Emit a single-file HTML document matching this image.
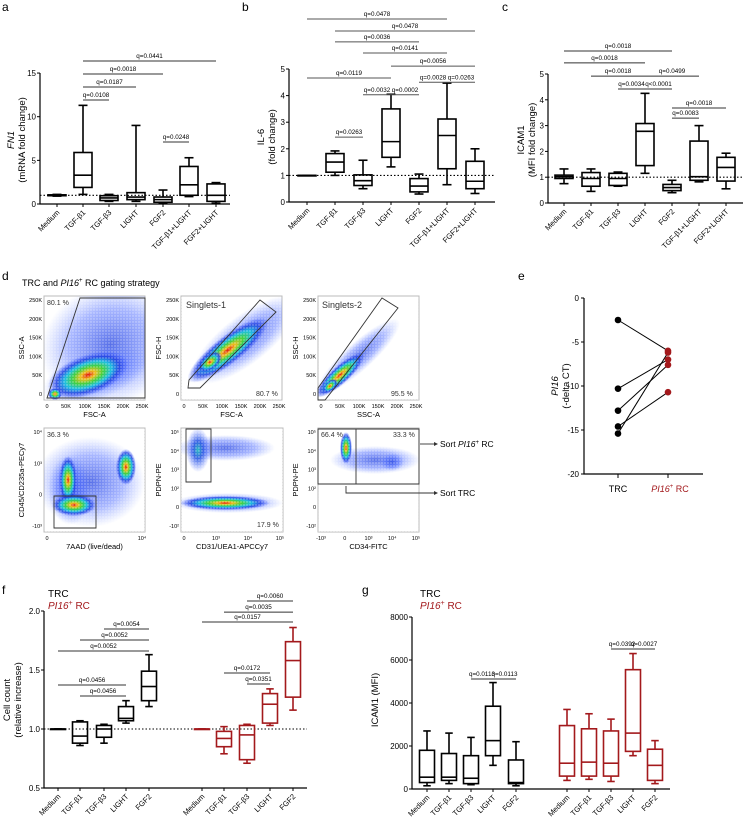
<!DOCTYPE html>
<html><head><meta charset="utf-8"><style>
html,body{margin:0;padding:0;background:#fff}
svg{display:block;font-family:"Liberation Sans",sans-serif}
</style></head><body>
<svg id="fig" width="743" height="819" viewBox="0 0 743 819" xmlns="http://www.w3.org/2000/svg">
<defs>
<radialGradient id="heat"><stop offset="0" stop-color="#e01010"/><stop offset="0.18" stop-color="#f0c020"/><stop offset="0.38" stop-color="#40d040"/><stop offset="0.58" stop-color="#20c0e0"/><stop offset="0.78" stop-color="#2040e0" stop-opacity="0.85"/><stop offset="1" stop-color="#3050ff" stop-opacity="0"/></radialGradient>
<radialGradient id="cool"><stop offset="0" stop-color="#30c0c0"/><stop offset="0.4" stop-color="#2050e0" stop-opacity="0.85"/><stop offset="1" stop-color="#4060ff" stop-opacity="0"/></radialGradient>
<radialGradient id="faint"><stop offset="0" stop-color="#2040e0" stop-opacity="0.75"/><stop offset="0.6" stop-color="#4060ff" stop-opacity="0.45"/><stop offset="1" stop-color="#6080ff" stop-opacity="0"/></radialGradient>
<pattern id="dots" width="3" height="3" patternUnits="userSpaceOnUse"><rect width="3" height="3" fill="#fff" fill-opacity="0"/><circle cx="1" cy="1" r="0.7" fill="#fff"/></pattern>
</defs>
<g id="panels"></g>
<g id="flow"></g>
</svg>
<script>
// ---------- DATA ----------
const catsA = ["Medium","TGF-β1","TGF-β3","LIGHT","FGF2","TGF-β1+LIGHT","FGF2+LIGHT"];
const boxesA = [[0.9,0.95,1,1.05,1.1],[1.1,1.9,3.3,5.9,11.3],[0.3,0.4,0.7,0.95,1.1],[0.3,0.5,0.8,1.3,9.0],[0.1,0.2,0.5,0.8,1.6],[0.85,1.0,2.2,4.3,5.3],[0.1,0.3,1.0,2.3,2.45]];
const ticksA = [0,5,10,15];
const sigTextA = ["q=0.0441","q=0.0018","q=0.0187","q=0.0108","q=0.0248"];
const sigFromA = [1,1,1,1,4];
const sigToA = [6,4,3,2,5];
const sigLevelA = [16.38,14.89,13.40,11.91,7.10];

const boxesB = [[1,1,1,1,1],[1.0,1.12,1.5,1.82,1.92],[0.5,0.62,0.8,1.02,1.57],[1.32,1.68,2.27,3.5,4.05],[0.3,0.38,0.6,0.88,1.05],[0.65,1.25,2.5,3.12,4.47],[0.32,0.5,0.78,1.53,2.0]];
const ticksB = [0,1,2,3,4,5];
const sigTextB = ["q=0.0478","q=0.0478","q=0.0036","q=0.0141","q=0.0056","q=0.0119","q=0.0028","q=0.0263","q=0.0032","q=0.0002","q=0.0263"];
const sigFromB = [0,1,1,2,3,0,4,5,2,3,1];
const sigToB = [5,6,4,5,6,3,5,6,3,4,2];
const sigLevelB = [6.88,6.43,6.02,5.60,5.11,4.66,4.50,4.50,4.03,4.03,2.44];

const boxesC = [[0.75,0.95,1.02,1.08,1.32],[0.45,0.65,0.95,1.18,1.32],[0.65,0.68,0.95,1.15,1.2],[1.15,1.45,2.78,3.08,4.25],[0.4,0.48,0.6,0.72,0.88],[0.82,0.88,1.02,2.4,3.0],[0.55,0.85,1.38,1.77,1.93]];
const ticksC = [0,1,2,3,4,5];
const sigTextC = ["q=0.0018","q=0.0018","q=0.0018","q=0.0499","q=0.0034","q<0.0001","q=0.0018","q=0.0083"];
const sigFromC = [0,0,1,3,2,3,4,4];
const sigToC = [4,3,3,5,3,4,6,5];
const sigLevelC = [5.89,5.43,4.92,4.92,4.42,4.42,3.68,3.29];

const catsFG = ["Medium","TGF-β1","TGF-β3","LIGHT","FGF2","Medium","TGF-β1","TGF-β3","LIGHT","FGF2"];
const boxesF = [[1,1,1,1,1],[0.86,0.88,0.94,1.06,1.07],[0.88,0.93,1.0,1.03,1.04],[1.05,1.07,1.09,1.19,1.24],[1.19,1.24,1.36,1.49,1.63],
                [1,1,1,1,1],[0.79,0.85,0.92,0.98,1.02],[0.71,0.74,0.95,1.03,1.04],[1.03,1.05,1.21,1.30,1.34],[1.16,1.27,1.58,1.74,1.86]];
const ticksF = [0.5,1.0,1.5,2.0];
const sigTextF = ["q=0.0054","q=0.0052","q=0.0052","q=0.0456","q=0.0456","q=0.0060","q=0.0035","q=0.0157","q=0.0172","q=0.0351"];
const sigFromF = [2,1,0,0,1,7,6,5,6,7];
const sigToF = [4,4,4,3,3,9,9,9,8,8];
const sigLevelF = [1.847,1.754,1.661,1.373,1.28,2.085,1.99,1.907,1.475,1.381];

const boxesG = [[150,300,550,1800,2700],[250,400,550,1650,2600],[200,250,500,1550,2400],[1100,1550,2250,3850,4950],[150,250,300,1350,2200],
                [400,600,1200,2950,3700],[450,600,1250,2800,3500],[350,600,1200,2700,3250],[1550,1750,2600,5550,6300],[250,400,1100,1850,2250]];
const ticksG = [0,2000,4000,6000,8000];
const sigTextG = ["q=0.0113","q=0.0113","q=0.0392","q=0.0027"];
const sigFromG = [2,3,7,8];
const sigToG = [3,4,8,9];
const sigLevelG = [5116,5116,6512,6512];

const groupsE = ["TRC","PI16+ RC"];
const trcE = [-2.5,-10.3,-12.8,-14.6,-15.4];
const pi16E = [-6.0,-7.0,-7.6,-10.7,-6.2];
const ticksE = [0,-5,-10,-15,-20];

// ---------- HELPERS ----------
const NS="http://www.w3.org/2000/svg";
const root=document.getElementById('panels');
function mk(tag,attrs,parent,txt){const e=document.createElementNS(NS,tag);for(const k in attrs)e.setAttribute(k,attrs[k]);if(txt!==undefined)e.textContent=txt;(parent||root).appendChild(e);return e;}
const RED="#a3191c";

function boxPanel(o){
  const g=mk('g',{});
  
  
  const y=v=>o.y0-(v-o.vmin)*o.k;
  const x=i=>o.xs[i];
  const ax=mk('path',{d:`M${o.ax},${y(o.ticks[o.ticks.length-1])}V${y(o.vmin)}H${o.axEnd}`,stroke:'#000','stroke-width':1.2,fill:'none'},g);
  
  
  o.ticks.forEach(t=>{
    mk('line',{x1:o.ax-3,x2:o.ax,y1:y(t),y2:y(t),stroke:'#000','stroke-width':1},g);
    const tl=mk('text',{x:o.ax-4,y:y(t)+3,'font-size':8,'text-anchor':'end'},g,o.fmt?o.fmt(t):t);
    
    
  });
  if(o.ref!==undefined){const rl=mk('line',{x1:o.ax,x2:o.axEnd,y1:y(o.ref),y2:y(o.ref),stroke:'#000','stroke-width':1.1,'stroke-dasharray':'1.5,2'},g);
    
    }
  o.boxes.forEach((b,i)=>{
    const c=o.color(i),cx=x(i),w=o.bw/2;
    const bg=mk('g',{stroke:c,'stroke-width':o.sw||1.6,fill:'none'},g);
    
    
    mk('line',{x1:cx,x2:cx,y1:y(b[4]),y2:y(b[3])},bg);
    mk('line',{x1:cx,x2:cx,y1:y(b[1]),y2:y(b[0])},bg);
    mk('line',{x1:cx-w/2,x2:cx+w/2,y1:y(b[4]),y2:y(b[4])},bg);
    mk('line',{x1:cx-w/2,x2:cx+w/2,y1:y(b[0]),y2:y(b[0])},bg);
    mk('rect',{x:cx-w,y:y(b[3]),width:2*w,height:Math.max(y(b[1])-y(b[3]),0.5),fill:b[3]===b[1]?c:'none'},bg);
    mk('line',{x1:cx-w,x2:cx+w,y1:y(b[2]),y2:y(b[2])},bg);
    mk('line',{x1:cx,x2:cx,y1:y(o.vmin),y2:y(o.vmin)+3,stroke:'#000','stroke-width':1},g);
    const lt=mk('text',{x:cx+3,y:y(o.vmin)+9,'font-size':7.5,'text-anchor':'end',transform:`rotate(-45 ${cx+3} ${y(o.vmin)+9})`},g,o.cats[i]);
    
    
  });
  o.sigText.forEach((s,j)=>{
    const yy=y(o.sigLevel[j]);
    const l=mk('line',{x1:x(o.sigFrom[j]),x2:x(o.sigTo[j]),y1:yy,y2:yy,stroke:o.sigColor||'#333','stroke-width':1},g);
    
    
    const t=mk('text',{x:(x(o.sigFrom[j])+x(o.sigTo[j]))/2,y:yy-3,'font-size':6.3,'text-anchor':'middle'},g,s);
    
    
  });
  return g;
}
function ytitle(lines,x,cy,name){
  const t=mk('text',{x:0,y:0,'font-size':9.5,'text-anchor':'middle',transform:`translate(${x},${cy}) rotate(-90)`});
  
  
  lines.forEach((ln,i)=>{const ts=mk('tspan',{x:0,dy:i?11:0},t,ln.t);if(ln.i)ts.setAttribute('font-style','italic');});
}
function label(s,x,y){const t=mk('text',{x:x,y:y,'font-size':12},root,s);}

label('a',2,11);label('b',242,11);label('c',502,11);label('d',2,280);label('e',518,280);label('f',2,594);label('g',362,594);
const black=()=>'#000';
boxPanel({name:'panel-a-fn1',cats:catsA,boxes:boxesA,ticks:ticksA,vmin:0,y0:204,k:8.73,ax:40,axEnd:230,xs:[57,83,109,136,163,189,216],bw:18,ref:1,color:black,sigText:sigTextA,sigFrom:sigFromA,sigTo:sigToA,sigLevel:sigLevelA});
ytitle([{t:'FN1',i:1},{t:'(mRNA fold change)'}],14,140,'y-axis-title-a');
boxPanel({name:'panel-b-il6',cats:catsA,boxes:boxesB,ticks:ticksB,vmin:0,y0:202,k:26.6,ax:289,axEnd:495,xs:[307,335,363,391,419,447,475],bw:18,ref:1,color:black,sigColor:'#555',sigText:sigTextB,sigFrom:sigFromB,sigTo:sigToB,sigLevel:sigLevelB});
ytitle([{t:'IL-6'},{t:'(fold change)'}],264,137,'y-axis-title-b');
boxPanel({name:'panel-c-icam1',cats:catsA,boxes:boxesC,ticks:ticksC,vmin:0,y0:203,k:25.8,ax:548,axEnd:743,xs:[564,591,618,645,672,699,726],bw:18,ref:1,color:black,sigText:sigTextC,sigFrom:sigFromC,sigTo:sigToC,sigLevel:sigLevelC});
ytitle([{t:'ICAM1'},{t:'(MFI fold change)'}],524,140,'y-axis-title-c');

const colFG=i=>i<5?'#000':RED;
boxPanel({name:'panel-f-cell-count',cats:catsFG,boxes:boxesF,ticks:ticksF,vmin:0.5,y0:788,k:118,ax:44,axEnd:307,xs:[58,80,104,126,149,202,224,247,270,293],bw:15,ref:1,color:colFG,fmt:t=>t.toFixed(1),sigText:sigTextF,sigFrom:sigFromF,sigTo:sigToF,sigLevel:sigLevelF});
ytitle([{t:'Cell count'},{t:'(relative increase)'}],10,700,'y-axis-title-f');
boxPanel({name:'panel-g-icam1-mfi',cats:catsFG,boxes:boxesG,ticks:ticksG,vmin:0,y0:789,k:0.0215,ax:412,axEnd:670,xs:[427,449,471,493,516,567,589,611,633,655],bw:15,color:colFG,sigText:sigTextG,sigFrom:sigFromG,sigTo:sigToG,sigLevel:sigLevelG});
ytitle([{t:'ICAM1 (MFI)'}],378,700,'y-axis-title-g');
[[48,'f'],[420,'g']].forEach(([lx,p])=>{
  const a=mk('text',{x:lx,y:597,'font-size':10},root,'TRC');
  
  
  const b=mk('text',{x:lx,y:609,'font-size':10,fill:RED});
  
  
  mk('tspan',{'font-style':'italic'},b,'PI16');mk('tspan',{dy:-4,'font-size':7},b,'+');mk('tspan',{dy:4},b,' RC');
});

// ---------- PANEL e ----------
(function(){
  const g=mk('g',{});
  
  
  const y=v=>298-v*8.8, xs=[618,668];
  mk('path',{d:`M584,${y(0)}V${y(-20)}H703`,stroke:'#000','stroke-width':1.2,fill:'none'},g);
  ticksE.forEach(t=>{mk('line',{x1:581,x2:584,y1:y(t),y2:y(t),stroke:'#000'},g);
    const tl=mk('text',{x:579,y:y(t)+3,'font-size':8,'text-anchor':'end'},g,t);
    
    });
  xs.forEach(xx=>mk('line',{x1:xx,x2:xx,y1:y(-20),y2:y(-20)+4,stroke:'#000'},g));
  trcE.forEach((v,i)=>{
    const l=mk('line',{x1:xs[0],y1:y(v),x2:xs[1],y2:y(pi16E[i]),stroke:'#000','stroke-width':1},g);
    
    
  });
  trcE.forEach(v=>{const c=mk('circle',{cx:xs[0],cy:y(v),r:3.3,fill:'#000'},g);
    
    });
  pi16E.forEach(v=>{const c=mk('circle',{cx:xs[1],cy:y(v),r:3.3,fill:RED},g);
    
    });
  const t1=mk('text',{x:xs[0],y:492,'font-size':9,'text-anchor':'middle'},g,groupsE[0]);
  
  
  const t2=mk('text',{x:xs[1]+2,y:492,'font-size':9,'text-anchor':'middle',fill:RED},g);
  
  
  mk('tspan',{'font-style':'italic'},t2,'PI16');mk('tspan',{dy:-4,'font-size':6},t2,'+');mk('tspan',{dy:4},t2,' RC');
})();
ytitle([{t:'PI16',i:1},{t:'(-delta CT)'}],558,386,'y-axis-title-e');

// ---------- PANEL d (flow plots) ----------
(function(){
  const F=document.getElementById('flow');
  const t=mk('text',{x:22,y:286,'font-size':9},F);
  
  
  mk('tspan',{},t,'TRC and ');mk('tspan',{'font-style':'italic'},t,'PI16');mk('tspan',{dy:-4,'font-size':6},t,'+');mk('tspan',{dy:4},t,' RC gating strategy');
  const plots=[
    {x:44,y:296,w:101,h:104,xl:'FSC-A',yl:'SSC-A',blobs:[['faint',110,345,70,60,-20],['faint',95,375,55,25,-20],['heat',88,375,42,20,-20],['heat',55,394,7,6,0]],
      gate:'M47,398 L80,298 L145,298 L145,398 Z',txt:[['80.1 %',47,305]],xt:['0','50K','100K','150K','200K','250K'],yt:['250K','200K','150K','100K','50K','0']},
    {x:181,y:296,w:101,h:104,xl:'FSC-A',yl:'FSC-H',blobs:[['faint',245,340,65,24,-38],['heat',228,350,50,14,-38],['heat',210,362,14,8,-38]],
      gate:'M188,388 L189,380 L260,300 L276,312 L200,388 Z',txt:[['Singlets-1',186,308,9],['80.7 %',256,396]],xt:['0','50K','100K','150K','200K','250K'],yt:['250K','200K','150K','100K','50K','0']},
    {x:318,y:296,w:101,h:104,xl:'SSC-A',yl:'SSC-H',blobs:[['faint',358,357,55,14,-42],['heat',340,375,32,9,-42],['heat',330,386,9,5,-42]],
      gate:'M318,388 L382,298 L398,308 L325,400 L318,400 Z',txt:[['Singlets-2',322,308,9],['95.5 %',391,396]],xt:['0','50K','100K','150K','200K','250K'],yt:['250K','200K','150K','100K','50K','0']},
    {x:44,y:428,w:101,h:104,xl:'7AAD (live/dead)',yl:'CD45/CD235a-PECy7',blobs:[['faint',90,482,55,45,0],['faint',70,490,22,35,0],['heat',68,480,9,24,0],['heat',74,505,22,11,0],['heat',126,467,10,18,0]],
      gate:'M54,496 H96 V528 H54 Z',txt:[['36.3 %',47,437]],xt:['0','10⁴'],yt:['10⁴','10³','0','-10³']},
    {x:181,y:428,w:102,h:104,xl:'CD31/UEA1-APCCy7',yl:'PDPN-PE',blobs:[['faint',225,448,50,13,0],['cool',198,450,12,22,0],['faint',228,503,55,10,0],['heat',225,503,45,7,0]],
      gate:'M186,429 H211 V482 H186 Z',txt:[['17.9 %',257,527]],xt:['0','10³','10⁴','10⁵'],yt:['10⁵','10⁴','10³','10²','0','-10²']},
    {x:318,y:428,w:101,h:104,xl:'CD34-FITC',yl:'PDPN-PE',blobs:[['faint',375,460,45,14,0],['heat',346,448,6,16,0],['faint',392,462,12,9,0]],
      gate:'M318,429 H356 V484 H318 Z M356,429 H419 V484 H356 Z',txt:[['66.4 %',321,437],['33.3 %',393,437]],xt:['-10³','0','10³','10⁴','10⁵'],yt:['10⁵','10⁴','10³','10²','0','-10²']}
  ];
  plots.forEach((p,i)=>{
    const g=mk('g',{},F);
    
    
    const cid='clip'+i;
    const cp=mk('clipPath',{id:cid},g);mk('rect',{x:p.x,y:p.y,width:p.w,height:p.h},cp);
    mk('rect',{x:p.x,y:p.y,width:p.w,height:p.h,fill:'#fff',stroke:'#bbb','stroke-width':1},g);
    const bg=mk('g',{'clip-path':`url(#${cid})`},g);
    p.blobs.forEach(b=>mk('ellipse',{cx:0,cy:0,rx:b[3],ry:b[4],fill:`url(#${b[0]})`,transform:`translate(${b[1]},${b[2]}) rotate(${b[5]})`},bg));
    mk('rect',{x:p.x,y:p.y,width:p.w,height:p.h,fill:'url(#dots)','fill-opacity':0.5},bg);
    const gt=mk('path',{d:p.gate,fill:'none',stroke:'#333','stroke-width':0.9},g);
    
    
    p.txt.forEach(s=>mk('text',{x:s[1],y:s[2],'font-size':s[3]||7,fill:'#333'},g,s[0]));
    p.xt.forEach((s,j)=>mk('text',{x:p.x+3+j*(p.w-6)/(p.xt.length-1),y:p.y+p.h+8,'font-size':5.5,'text-anchor':'middle'},g,s));
    p.yt.forEach((s,j)=>mk('text',{x:p.x-2,y:p.y+6+j*(p.h-10)/(p.yt.length-1),'font-size':5.5,'text-anchor':'end'},g,s));
    const xl=mk('text',{x:p.x+p.w/2,y:p.y+p.h+17,'font-size':7.5,'text-anchor':'middle'},g,p.xl);
    
    
    const yx=p.x-20, yc=p.y+p.h/2;
    const yl=mk('text',{x:0,y:0,'font-size':7.5,'text-anchor':'middle',transform:`translate(${yx},${yc}) rotate(-90)`},g,p.yl);
    
    
  });
  mk('path',{d:'M420,444 H434',stroke:'#333','stroke-width':0.9,fill:'none'},F);
  mk('path',{d:'M434,442 L438,444 L434,446 Z',fill:'#333'},F);
  const s1=mk('text',{x:440,y:447,'font-size':8.5},F);
  
  
  mk('tspan',{},s1,'Sort ');mk('tspan',{'font-style':'italic'},s1,'PI16');mk('tspan',{dy:-3,'font-size':6},s1,'+');mk('tspan',{dy:3},s1,' RC');
  mk('path',{d:'M346,486 V493 H434',stroke:'#333','stroke-width':0.9,fill:'none'},F);
  mk('path',{d:'M434,491 L438,493 L434,495 Z',fill:'#333'},F);
  const s2=mk('text',{x:440,y:496,'font-size':8.5},F,'Sort TRC');
  
  
})();
</script>
</body></html>
